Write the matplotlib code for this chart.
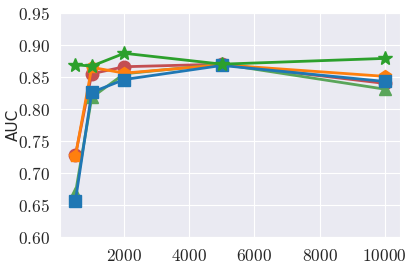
import numpy as np
import matplotlib
matplotlib.use("Agg")
import matplotlib.pyplot as plt
import seaborn as sns

sns.set_style("darkgrid")
plt.rcParams["mathtext.fontset"] = "cm"

# data
sizes = [500, 1000, 2000, 5000, 10000]
auc_red = [0.728, 0.855, 0.866, 0.870, 0.840]
auc_lgreen = [0.669, 0.818, 0.855, 0.870, 0.831]
auc_orange = [0.727, 0.865, 0.856, 0.869, 0.851]
auc_blue = [0.657, 0.826, 0.846, 0.868, 0.843]
auc_star = [0.869, 0.867, 0.887, 0.870, 0.879]

yticks = [0.60, 0.65, 0.70, 0.75, 0.80, 0.85, 0.90, 0.95]
xticks = [2000, 4000, 6000, 8000, 10000]

fig = plt.figure(figsize=(4.15, 2.64), dpi=100)
ax = fig.add_axes([0.1446, 0.102, 0.8194, 0.849])

ax.plot(sizes, auc_red, color="#c44e52", marker="o", ms=9, lw=2)
ax.plot(sizes, auc_lgreen, color="#5aa55a", marker="^", ms=9, lw=2)
ax.plot(sizes, auc_orange, color="#ff7f0e", marker="p", ms=9, lw=2)
ax.plot(sizes, auc_blue, color="#1f77b4", marker="s", ms=9, lw=2)
ax.plot(sizes, auc_star, color="#2ca02c", marker="*", ms=10, lw=2)

ax.set_ylim(0.60, 0.95)
ax.set_yticks(yticks)
ax.set_yticklabels(["$%.2f$" % v for v in yticks], fontsize=12.5)
ax.set_xticks(xticks)
ax.set_xticklabels(["$%d$" % v for v in xticks], fontsize=12.5)
ax.set_ylabel("AUC", fontsize=11)
ax.yaxis.set_label_coords(-0.115, 0.5)

fig.savefig("out.png", dpi=100)
